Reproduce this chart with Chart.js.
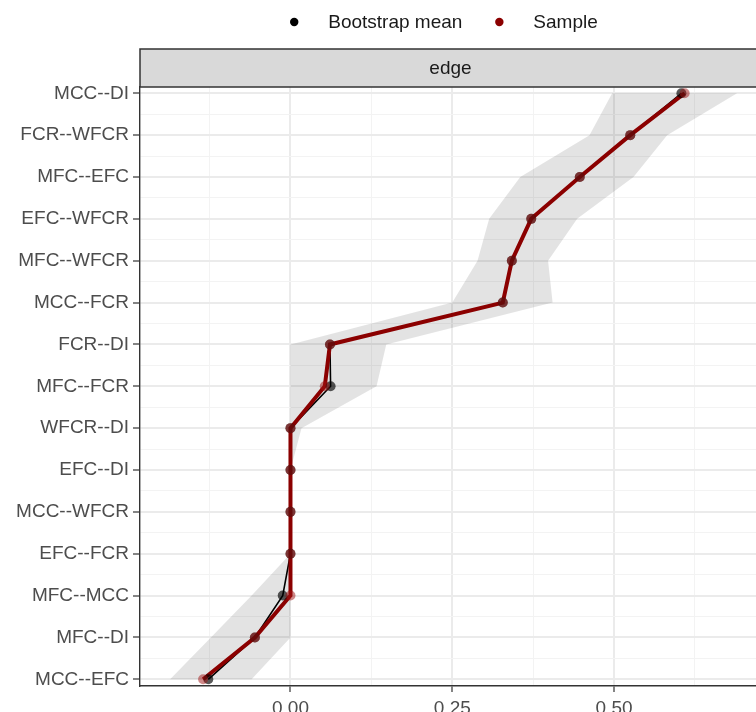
<!DOCTYPE html>
<html>
<head>
<meta charset="utf-8">
<title>edge</title>
<script src="https://cdn.jsdelivr.net/npm/chart.js@4.4.1/dist/chart.umd.min.js"></script>
<style>
  html, body { margin: 0; padding: 0; background: #fff; overflow: hidden; }
  #wrap { width: 766px; height: 712px; }
</style>
</head>
<body>
<div id="wrap"><canvas id="chart" width="766" height="712"></canvas></div>
<script>
// ---- data (top to bottom) ----
const edges = [
  'MCC--DI', 'FCR--WFCR', 'MFC--EFC', 'EFC--WFCR', 'MFC--WFCR',
  'MCC--FCR', 'FCR--DI', 'MFC--FCR', 'WFCR--DI', 'EFC--DI',
  'MCC--WFCR', 'EFC--FCR', 'MFC--MCC', 'MFC--DI', 'MCC--EFC'
];
const sampleValues = [0.609, 0.525, 0.447, 0.372, 0.342, 0.328, 0.061, 0.053, 0, 0, 0, 0, 0, -0.055, -0.135];
const bootMeans    = [0.604, 0.525, 0.447, 0.372, 0.342, 0.328, 0.061, 0.062, 0, 0, 0, 0, -0.012, -0.055, -0.127];
const ciLower      = [0.497, 0.462, 0.355, 0.307, 0.289, 0.250, 0, 0, 0, 0, 0, 0, -0.060, -0.123, -0.186];
const ciUpper      = [0.690, 0.582, 0.530, 0.443, 0.398, 0.405, 0.148, 0.133, 0.017, 0, 0, 0, 0, 0, -0.060];
const xMajorTicks  = [0, 0.25, 0.5];

const FONT = "'Liberation Sans', Arial, sans-serif";
const toPoints = (vals) => vals.map((v, i) => ({ x: v, y: i }));

// closed polygon: lower bound going down, upper bound coming back up
const bandPoints = toPoints(ciLower).concat(toPoints(ciUpper).reverse());

// minor ticks sit halfway between majors (and one half-step past each end)
const xStep = xMajorTicks[1] - xMajorTicks[0];
const xAllTicks = [xMajorTicks[0] - xStep / 2];
xMajorTicks.forEach((t) => { xAllTicks.push(t, t + xStep / 2); });

const isMajorX = (v) => xMajorTicks.some((t) => Math.abs(t - v) < 1e-9);
const isMajorY = (v) => Number.isInteger(v);

/**
 * Facet strip ("edge") and top legend, drawn like the ggplot original.
 */
const stripAndLegend = {
  id: 'stripAndLegend',
  afterDraw(chart) {
    const { ctx, chartArea } = chart;
    const stripTop = 49;
    ctx.save();

    // --- strip ---
    ctx.fillStyle = '#D9D9D9';
    ctx.fillRect(chartArea.left, stripTop, chartArea.right - chartArea.left + 2, chartArea.top - stripTop);
    ctx.strokeStyle = '#333333';
    ctx.lineWidth = 1.5;
    ctx.strokeRect(chartArea.left, stripTop, chartArea.right - chartArea.left + 4, chartArea.top - stripTop);
    ctx.fillStyle = '#1A1A1A';
    ctx.font = `19px ${FONT}`;
    ctx.textAlign = 'center';
    ctx.textBaseline = 'middle';
    ctx.fillText('edge', (chartArea.left + chartArea.right) / 2, (stripTop + chartArea.top) / 2 + 1);

    // --- legend ---
    const items = chart.data.datasets.filter((d) => d.legendColor);
    const widths = items.map((d) => ctx.measureText(d.label).width);
    const total = widths.reduce((s, w) => s + w + 4 + 34, 0) + 33 * (items.length - 1);
    let x = 444 - total / 2;
    const y = 22;
    ctx.textAlign = 'left';
    items.forEach((d, i) => {
      ctx.fillStyle = d.legendColor;
      ctx.beginPath();
      ctx.arc(x + 4, y, 4.2, 0, Math.PI * 2);
      ctx.fill();
      ctx.fillStyle = '#1A1A1A';
      ctx.fillText(d.label, x + 4 + 34, y + 1);
      x += 4 + 34 + widths[i] + 33;
    });
    ctx.restore();
  }
};

new Chart(document.getElementById('chart'), {
  type: 'scatter',
  data: {
    datasets: [
      {
        label: 'band',
        data: bandPoints,
        showLine: true,
        fill: 'shape',
        backgroundColor: 'rgba(0, 0, 0, 0.11)',
        borderWidth: 0,
        borderColor: 'rgba(0,0,0,0)',
        pointRadius: 0,
        order: 5,
      },
      {
        label: 'Bootstrap mean line',
        data: toPoints(bootMeans),
        showLine: true,
        borderColor: '#000000',
        borderWidth: 1.6,
        pointRadius: 0,
        order: 4,
      },
      {
        label: 'Sample line',
        data: toPoints(sampleValues),
        showLine: true,
        borderColor: '#8B0000',
        borderWidth: 4,
        pointRadius: 0,
        order: 3,
      },
      {
        label: 'Bootstrap mean',
        legendColor: '#000000',
        data: toPoints(bootMeans),
        showLine: false,
        pointRadius: 5,
        pointBackgroundColor: 'rgba(0, 0, 0, 0.65)',
        pointBorderWidth: 0,
        order: 2,
      },
      {
        label: 'Sample',
        legendColor: '#8B0000',
        data: toPoints(sampleValues),
        showLine: false,
        pointRadius: 5,
        pointBackgroundColor: 'rgba(160, 20, 20, 0.5)',
        pointBorderWidth: 0,
        order: 1,
      },
    ],
  },
  options: {
    responsive: false,
    devicePixelRatio: 1,
    animation: false,
    layout: { padding: { top: 87, left: 0, right: 0, bottom: 0 } },
    plugins: {
      legend: { display: false },
      tooltip: { enabled: false },
      title: { display: false },
    },
    scales: {
      x: {
        type: 'linear',
        min: -0.2325,
        max: 0.727,
        afterBuildTicks: (scale) => { scale.ticks = xAllTicks.map((v) => ({ value: v })); },
        afterFit: (scale) => { scale.height = 26; },
        ticks: {
          autoSkip: false,
          maxRotation: 0,
          padding: 5,
          color: '#4D4D4D',
          font: { family: FONT, size: 19 },
          callback: (v) => (isMajorX(v) ? v.toFixed(2) : ''),
        },
        grid: {
          color: (c) => (isMajorX(c.tick.value) ? '#EBEBEB' : '#F3F3F3'),
          lineWidth: (c) => (isMajorX(c.tick.value) ? 2 : 1),
          tickColor: (c) => (isMajorX(c.tick.value) ? '#333333' : 'rgba(0,0,0,0)'),
          tickWidth: 1.2,
          tickLength: 6,
        },
        border: { color: '#333333', width: 1.4 },
      },
      y: {
        type: 'linear',
        reverse: true,
        min: -0.15,
        max: 14.16,
        afterBuildTicks: (scale) => {
          const t = [];
          for (let v = 0; v <= edges.length - 1; v += 0.5) t.push({ value: v });
          scale.ticks = t;
        },
        afterFit: (scale) => { scale.width = 140; },
        ticks: {
          autoSkip: false,
          padding: 4,
          color: '#4D4D4D',
          font: { family: FONT, size: 19 },
          callback: (v) => (isMajorY(v) ? edges[v] : ''),
        },
        grid: {
          color: (c) => (isMajorY(c.tick.value) ? '#EBEBEB' : '#F3F3F3'),
          lineWidth: (c) => (isMajorY(c.tick.value) ? 2 : 1),
          tickColor: (c) => (isMajorY(c.tick.value) ? '#333333' : 'rgba(0,0,0,0)'),
          tickWidth: 1.2,
          tickLength: 7,
        },
        border: { color: '#333333', width: 1.4 },
      },
    },
  },
  plugins: [stripAndLegend],
});
</script>
</body>
</html>
